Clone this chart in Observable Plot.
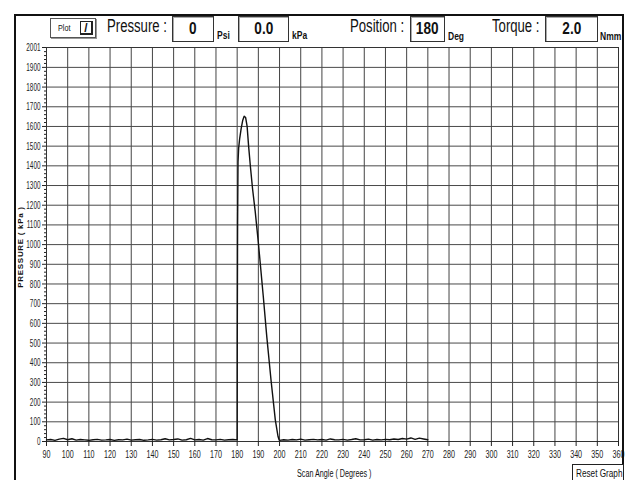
<!DOCTYPE html>
<html>
<head>
<meta charset="utf-8">
<script src="https://cdn.jsdelivr.net/npm/d3@7"></script>
<script src="https://cdn.jsdelivr.net/npm/@observablehq/plot@0.6"></script>
<style>
  html, body { margin: 0; padding: 0; background: #fff; }
  #wrap { position: relative; width: 629px; height: 480px; overflow: hidden; background: #fff;
    font-family: "Liberation Sans", Arial, sans-serif; color: #111; }
  #chart { position: absolute; left: 0; top: 0; }
  .abs { position: absolute; white-space: nowrap; }
  .nar { display: inline-block; transform-origin: left center; }
  .lbl { font-size: 18px; line-height: 18px; }
  .lbl .nar { transform: scaleX(0.73); }
  .unit { font-size: 10px; font-weight: bold; line-height: 10px; }
  .unit .nar { transform: scaleX(0.85); }
  .box { border: 1px solid #333; background: #fff; font-weight: bold; font-size: 17px; text-align: center;
    box-sizing: border-box; box-shadow: inset 1px 1px 0 #aaa; }
  .box .nar { transform: scaleX(0.8); transform-origin: center center; }
  .frameL { left: 14px; top: 14px; width: 2px; height: 480px; background: #111; }
  .frameR { left: 622px; top: 14px; width: 2px; height: 480px; background: #111; }
  .frameT { left: 14px; top: 14px; width: 610px; height: 2px; background: #111; }
</style>
</head>
<body>
<div id="wrap">
  <div id="chart"></div>
  <div class="abs frameT"></div>
  <div class="abs frameL"></div>
  <div class="abs frameR"></div>

  <div class="abs" style="left:50px;top:18px;width:46px;height:20px;border:1px solid #555;box-sizing:border-box;background:#fff;box-shadow:1px 1px 0 #999;">
    <span class="abs" style="left:7px;top:4px;font-size:9px;line-height:10px;"><span class="nar" style="transform:scaleX(0.8);">Plot</span></span>
    <span class="abs" style="left:29px;top:2px;width:13px;height:14px;border:1px solid #222;border-right-width:2px;border-bottom-width:2px;box-sizing:border-box;font-size:12px;font-weight:bold;line-height:12px;text-align:center;">/</span>
  </div>

  <div class="abs lbl" style="left:107px;top:17px;"><span class="nar">Pressure :</span></div>
  <div class="abs box" style="left:172px;top:16px;width:42px;height:26px;line-height:24px;"><span class="nar">0</span></div>
  <div class="abs unit" style="left:217px;top:31px;"><span class="nar">Psi</span></div>
  <div class="abs box" style="left:238px;top:16px;width:51px;height:26px;line-height:24px;"><span class="nar">0.0</span></div>
  <div class="abs unit" style="left:292px;top:31px;"><span class="nar">kPa</span></div>

  <div class="abs lbl" style="left:350px;top:17px;"><span class="nar">Position :</span></div>
  <div class="abs box" style="left:410px;top:16px;width:35px;height:26px;line-height:24px;"><span class="nar">180</span></div>
  <div class="abs unit" style="left:448px;top:32px;"><span class="nar">Deg</span></div>
  <div class="abs lbl" style="left:492px;top:17px;"><span class="nar">Torque :</span></div>
  <div class="abs box" style="left:545px;top:16px;width:53px;height:26px;line-height:24px;"><span class="nar">2.0</span></div>
  <div class="abs unit" style="left:600px;top:32px;"><span class="nar">Nmm</span></div>

  <div class="abs" style="left:20px;top:247px;transform:translate(-50%,-50%) rotate(-90deg);font-size:8px;font-weight:bold;letter-spacing:0.7px;">PRESSURE ( kPa )</div>
  <div class="abs" style="left:297px;top:468px;font-size:10px;line-height:11px;"><span class="nar" style="transform:scaleX(0.72);">Scan Angle ( Degrees )</span></div>
  <div class="abs" style="left:572px;top:464px;width:52px;height:20px;border:1px solid #222;box-sizing:border-box;background:#fff;font-size:10px;line-height:11px;padding:3px 0 0 3px;"><span class="nar" style="transform:scaleX(0.82);">Reset Graph</span></div>
</div>
<script>
// ---- data ----
const xTicks = [90,100,110,120,130,140,150,160,170,180,190,200,210,220,230,240,250,260,270,280,290,300,310,320,330,340,350,360];
const yTicks = [0,100,200,300,400,500,600,700,800,900,1000,1100,1200,1300,1400,1500,1600,1700,1800,1900,2001];

// baseline before the peak, sampled every 2 degrees from 90 to 180
const preAngles = d3.range(90, 181, 2);
const preValues = [8,10,6,12,16,9,14,7,10,8,6,9,11,7,8,10,6,9,8,12,7,9,10,6,8,11,7,9,14,8,10,13,7,9,16,8,10,7,15,9,8,11,7,9,10,8];

// the pressure peak
const peakAngles = [180.05, 180.2, 180.4, 180.7, 181.2, 181.9, 182.6, 183.3, 184.0, 184.7, 185.4, 186.3, 187.3, 188.5, 190.0, 192.3, 194.0, 196.0, 198.0, 199.3, 199.8];
const peakValues = [500, 1100, 1420, 1490, 1540, 1590, 1630, 1652, 1645, 1600, 1500, 1390, 1280, 1170, 1010, 740, 530, 310, 110, 25, 8];

// baseline after the peak, sampled every 2 degrees from 200 to 270
const postAngles = d3.range(200, 271, 2);
const postValues = [6,9,7,10,8,12,7,9,11,8,10,7,13,9,8,11,7,10,14,8,9,12,7,10,8,11,9,13,10,15,12,18,11,17,13,9];

const minorY = d3.range(0, 2001, 20).filter(v => v % 100 !== 0);

const data = [];
preAngles.forEach((a, i) => data.push({a, v: preValues[i]}));
peakAngles.forEach((a, i) => data.push({a, v: peakValues[i]}));
postAngles.forEach((a, i) => data.push({a, v: postValues[i]}));

const fmt = d => String(d);
const chart = Plot.plot({
  width: 629,
  height: 480,
  marginLeft: 46,
  marginRight: 11,
  marginTop: 47,
  marginBottom: 39,
  x: {domain: [90, 360]},
  y: {domain: [0, 2001]},
  style: {background: "transparent", fontFamily: "'Liberation Sans',Arial,sans-serif", fontSize: "10px", color: "#222"},
  marks: [
    Plot.gridX(xTicks, {stroke: "#444", strokeOpacity: 1}),
    Plot.gridY(yTicks, {stroke: "#4a4a4a", strokeOpacity: 1}),
    Plot.frame({stroke: "#333"}),
    Plot.axisX(xTicks, {tickSize: 5, tickPadding: 3, label: null, tickFormat: fmt, fontSize: 11.5}),
    Plot.axisY(yTicks, {tickSize: 4, tickPadding: 2, label: null, tickFormat: fmt, fontSize: 11}),
    Plot.axisY(minorY, {tickSize: 2, text: null, label: null}),
    Plot.line(data, {x: "a", y: "v", stroke: "#111", strokeWidth: 1.4})
  ]
});
document.getElementById("chart").appendChild(chart);

// condense axis tick labels (the reference uses a narrow face)
function condense(sel, k) {
  d3.select(chart).selectAll(sel).each(function() {
    const len = this.getComputedTextLength();
    if (len > 0) {
      this.setAttribute("textLength", (len * k).toFixed(2));
      this.setAttribute("lengthAdjust", "spacingAndGlyphs");
    }
  });
}
condense("g[aria-label='x-axis tick label'] text", 0.62);
condense("g[aria-label='y-axis tick label'] text", 0.58);
</script>
</body>
</html>
